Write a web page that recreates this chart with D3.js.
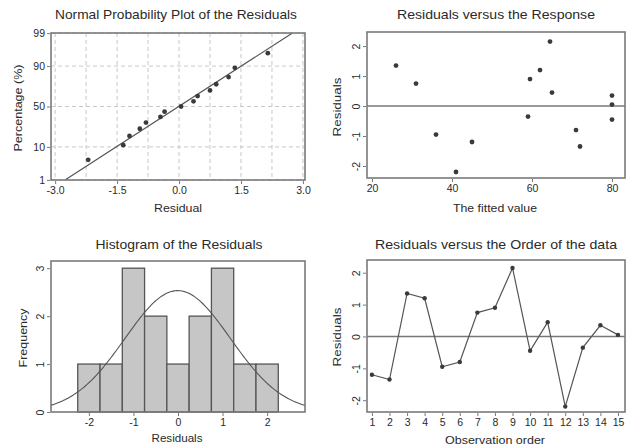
<!DOCTYPE html>
<html><head><meta charset="utf-8">
<script src="https://cdn.jsdelivr.net/npm/d3@7"></script>
<style>
html,body{margin:0;padding:0;background:#fff;}
svg{display:block;font-family:"Liberation Sans",Arial,sans-serif;}
</style></head>
<body><svg id="c" width="633" height="445"></svg>
<script>
// ---- data ----
const observation = [1,2,3,4,5,6,7,8,9,10,11,12,13,14,15];
const residuals   = [-1.2,-1.35,1.35,1.2,-0.95,-0.8,0.75,0.9,2.15,-0.45,0.45,-2.2,-0.35,0.35,0.05];
const fitted      = [45,72,26,62,36,71,31,59.5,64.5,80,65,41,59,80,80];
const histCenters = [-2,-1.5,-1,-0.5,0,0.5,1,1.5,2];
const histCounts  = [1,1,3,2,1,2,3,1,1];
const binWidth = 0.5;
const probTicks = [1,10,50,90,99];
const probXTicks = [-3.0,-1.5,0.0,1.5,3.0];
const probXGrid = [-3,-2.25,-1.5,-0.75,0,0.75,1.5,2.25,3];
const fitTicks = [20,40,60,80];
const resTicks = [-2,-1,0,1,2];
const histXTicks = [-2,-1,0,1,2];
const freqTicks = [0,1,2,3];

const svg = d3.select("#c");
const frameCol = "#7a7a7a", textCol = "#2a2a2a", lineCol = "#555", ptCol = "#3a3a3a";
const FS = 10.5;
const hy = s => s.replace(/\u2212/g,"-");

// inverse normal CDF
function qnorm(p){
  const a=[-39.69683028665376,220.9460984245205,-275.9285104469687,138.3577518672690,-30.66479806614716,2.506628277459239];
  const b=[-54.47609879822406,161.5858368580409,-155.6989798598866,66.80131188771972,-13.28068155288572];
  const c=[-0.007784894002430293,-0.3223964580411365,-2.400758277161838,-2.549732539343734,4.374664141464968,2.938163982698783];
  const d=[0.007784695709041462,0.3224671290700398,2.445134137142996,3.754408661907416];
  const pl=0.02425;let q,r;
  if(p<pl){q=Math.sqrt(-2*Math.log(p));return (((((c[0]*q+c[1])*q+c[2])*q+c[3])*q+c[4])*q+c[5])/((((d[0]*q+d[1])*q+d[2])*q+d[3])*q+1);}
  if(p>1-pl){q=Math.sqrt(-2*Math.log(1-p));return -(((((c[0]*q+c[1])*q+c[2])*q+c[3])*q+c[4])*q+c[5])/((((d[0]*q+d[1])*q+d[2])*q+d[3])*q+1);}
  q=p-0.5;r=q*q;return (((((a[0]*r+a[1])*r+a[2])*r+a[3])*r+a[4])*r+a[5])*q/(((((b[0]*r+b[1])*r+b[2])*r+b[3])*r+b[4])*r+1);
}
const mean = d3.mean(residuals), sd = d3.deviation(residuals);

function frame(g,x0,x1,y0,y1){
  g.append("rect").attr("x",x0).attr("y",y0).attr("width",x1-x0).attr("height",y1-y0)
   .attr("fill","none").attr("stroke",frameCol).attr("stroke-width",1.6);
}
function xAxis(g,scale,y,ticks,fmt){
  const ax=d3.axisBottom(scale).tickValues(ticks).tickSize(3).tickPadding(3).tickFormat(d=>hy(fmt(d)));
  const a=g.append("g").attr("transform",`translate(0,${y+1})`).call(ax);
  a.select(".domain").remove();
  a.selectAll("line").attr("stroke",frameCol);
  a.selectAll("text").attr("fill",textCol).style("font-size",FS+"px").attr("font-family","Liberation Sans, Arial, sans-serif");
}
function yAxis(g,scale,x,ticks,fmt,rot){
  const ax=d3.axisLeft(scale).tickValues(ticks).tickSize(3).tickPadding(2).tickFormat((d,i)=>hy(String(fmt(d,i))));
  const a=g.append("g").attr("transform",`translate(${x-1},0)`).call(ax);
  a.select(".domain").remove();
  a.selectAll("line").attr("stroke",frameCol);
  const t=a.selectAll("text").attr("fill",textCol).style("font-size",FS+"px").attr("font-family","Liberation Sans, Arial, sans-serif");
  if(rot){ t.attr("transform","rotate(-90,-9,0)").attr("x",-9).attr("dy","0.35em").attr("text-anchor","middle").attr("dx",0).attr("y",-1); }
}
function txt(x,y,s,fs,len,rot){
  const t=svg.append("text").attr("text-anchor","middle").attr("fill",textCol).style("font-size",fs+"px")
    .attr("textLength",len).attr("lengthAdjust","spacingAndGlyphs").text(s);
  if(rot) t.attr("transform",`translate(${x},${y}) rotate(-90)`); else t.attr("x",x).attr("y",y);
}

// ---------- Panel 1: Normal probability ----------
{
  const g=svg.append("g");
  const L=51,R=305,T=33,B=180;
  const x=d3.scaleLinear().domain([-3.1,3.05]).range([L,R]);
  const y=d3.scaleLinear().domain([-2.33,2.33]).range([B,T]);
  g.selectAll(".gx").data(probXGrid).join("line").attr("x1",d=>x(d)).attr("x2",d=>x(d)).attr("y1",T).attr("y2",B)
   .attr("stroke","#c8c8c8").attr("stroke-dasharray","4,3");
  g.selectAll(".gy").data(probTicks).join("line").attr("x1",L).attr("x2",R).attr("y1",d=>y(qnorm(d/100))).attr("y2",d=>y(qnorm(d/100)))
   .attr("stroke","#c8c8c8").attr("stroke-dasharray","4,3");
  const zLo=y.domain()[0], zHi=y.domain()[1];
  svg.append("clipPath").attr("id","cp1").append("rect").attr("x",L).attr("y",T).attr("width",R-L).attr("height",B-T);
  g.append("line").attr("clip-path","url(#cp1)")
   .attr("x1",x(mean+sd*zLo)).attr("y1",y(zLo)).attr("x2",x(mean+sd*zHi)).attr("y2",y(zHi))
   .attr("stroke",lineCol).attr("stroke-width",1.2);
  const sorted=residuals.slice().sort((a,b)=>a-b);
  const n=sorted.length;
  g.selectAll(".p").data(sorted).join("circle").attr("cx",d=>x(d)).attr("cy",(d,i)=>y(qnorm((i+1-0.3)/(n+0.4)))).attr("r",2.4).attr("fill",ptCol);
  frame(g,L,R,T,B);
  xAxis(g,x,B,probXTicks,d3.format(".1f"));
  yAxis(g,y,L,probTicks.map(p=>qnorm(p/100)),(d,i)=>probTicks[i],false);
  txt(176,19,"Normal Probability Plot of the Residuals",13,242);
  txt(178,212,"Residual",11,48);
  txt(22,108,"Percentage (%)",11,87,true);
}
// ---------- Panel 2: Residuals vs fitted ----------
{
  const g=svg.append("g");
  const L=367,R=625,T=32,B=178;
  const x=d3.scaleLinear().domain([18.75,83.25]).range([L,R]);
  const y=d3.scaleLinear().domain([-2.4,2.47]).range([B,T]);
  g.append("line").attr("x1",L).attr("x2",R).attr("y1",y(0)).attr("y2",y(0)).attr("stroke","#777").attr("stroke-width",1.4);
  g.selectAll(".p").data(residuals).join("circle").attr("cx",(d,i)=>x(fitted[i])).attr("cy",d=>y(d)).attr("r",2.4).attr("fill",ptCol);
  frame(g,L,R,T,B);
  xAxis(g,x,B,fitTicks,d3.format("d"));
  yAxis(g,y,L,resTicks,d3.format("d"),true);
  txt(496,19,"Residuals versus the Response",13,198);
  txt(495,212,"The fitted value",11,84);
  txt(341,107,"Residuals",11,59,true);
}
// ---------- Panel 3: Histogram ----------
{
  const g=svg.append("g");
  const L=51,R=305,T=261,B=412;
  const x=d3.scaleLinear().domain([-2.85,2.85]).range([L,R]);
  const y=d3.scaleLinear().domain([0,3.15]).range([B,T]);
  g.selectAll(".b").data(histCenters).join("rect")
   .attr("x",d=>x(d-binWidth/2)).attr("width",d=>x(d+binWidth/2)-x(d-binWidth/2))
   .attr("y",(d,i)=>y(histCounts[i])).attr("height",(d,i)=>B-y(histCounts[i]))
   .attr("fill","#c6c6c6").attr("stroke","#555").attr("stroke-width",1.3);
  const xs=d3.range(0,201).map(i=>-2.85+5.7*i/200);
  const n=residuals.length;
  const pdf=v=>n*binWidth*Math.exp(-0.5*((v-mean)/sd)**2)/(sd*Math.sqrt(2*Math.PI));
  g.append("path").datum(xs).attr("d",d3.line().x(d=>x(d)).y(d=>y(pdf(d))))
   .attr("fill","none").attr("stroke",lineCol).attr("stroke-width",1.1);
  frame(g,L,R,T,B);
  xAxis(g,x,B,histXTicks,d3.format("d"));
  yAxis(g,y,L,freqTicks,d3.format("d"),true);
  txt(179,249,"Histogram of the Residuals",13,167);
  txt(177,442,"Residuals",11,51);
  txt(27,338,"Frequency",11,59,true);
}
// ---------- Panel 4: Residuals vs order ----------
{
  const g=svg.append("g");
  const L=367,R=625,T=260,B=412;
  const x=d3.scaleLinear().domain([0.72,15.4]).range([L,R]);
  const y=d3.scaleLinear().domain([-2.37,2.4]).range([B,T]);
  g.append("line").attr("x1",L).attr("x2",R).attr("y1",y(0)).attr("y2",y(0)).attr("stroke","#777").attr("stroke-width",1.4);
  g.append("path").datum(residuals).attr("d",d3.line().x((d,i)=>x(observation[i])).y(d=>y(d)))
   .attr("fill","none").attr("stroke",lineCol).attr("stroke-width",1.2);
  g.selectAll(".p").data(residuals).join("circle").attr("cx",(d,i)=>x(observation[i])).attr("cy",d=>y(d)).attr("r",2.2).attr("fill",ptCol);
  frame(g,L,R,T,B);
  xAxis(g,x,B,observation,d3.format("d"));
  yAxis(g,y,L,resTicks,d3.format("d"),true);
  txt(496,249,"Residuals versus the Order of the data",13,242);
  txt(495,444,"Observation order",11,100);
  txt(341,337,"Residuals",11,59,true);
}
</script></body></html>
